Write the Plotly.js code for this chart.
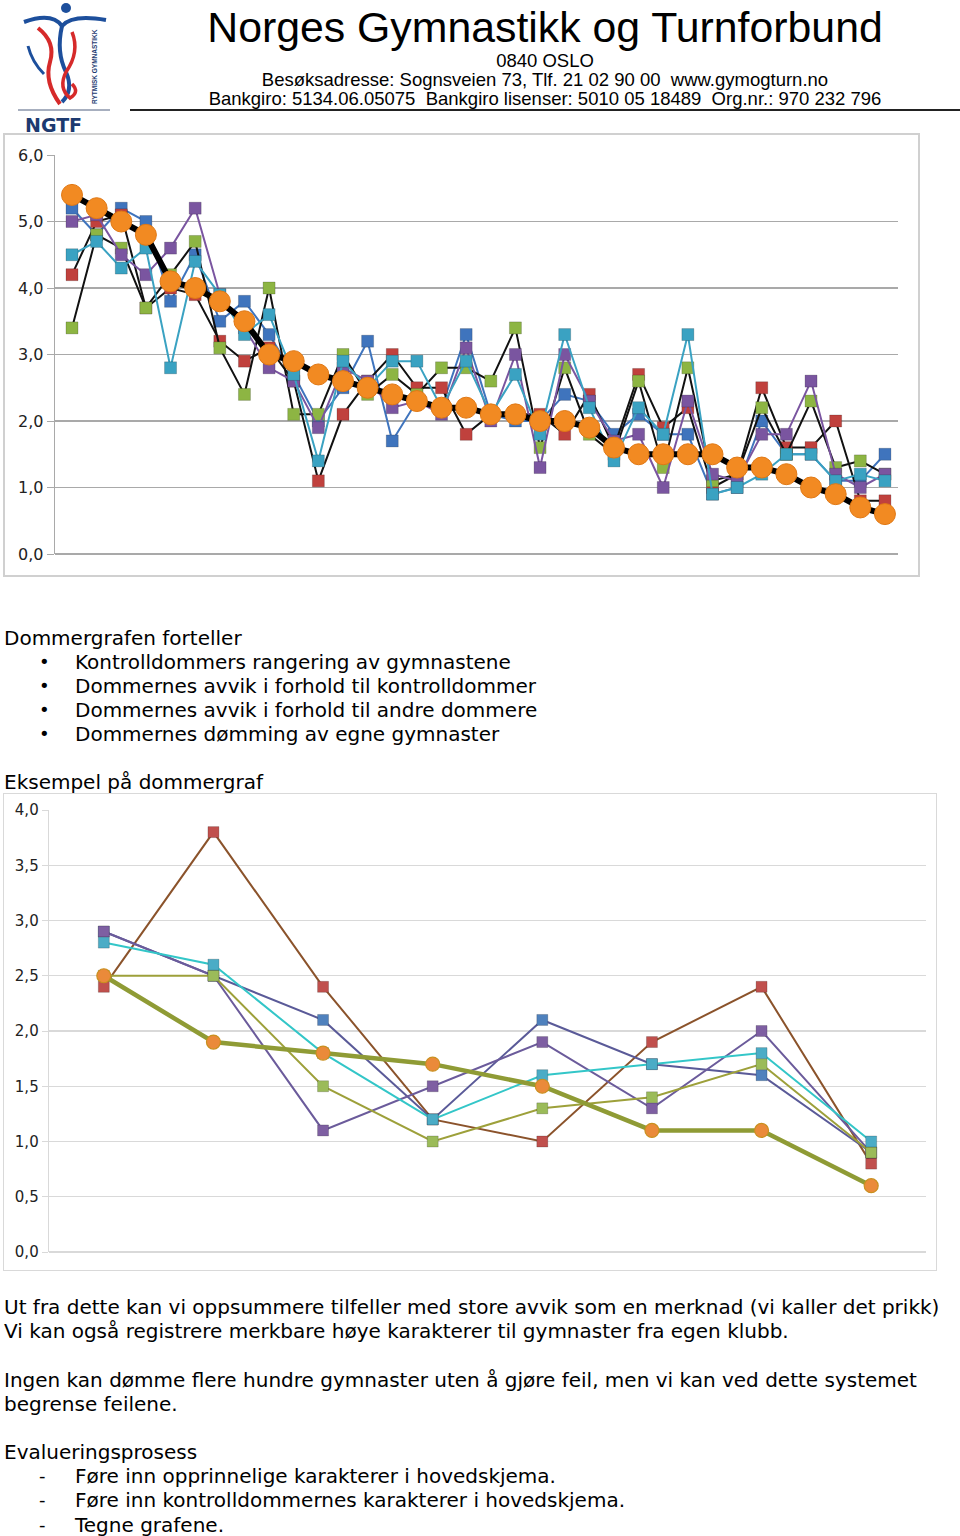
<!DOCTYPE html>
<html><head><meta charset="utf-8">
<script src="https://cdn.plot.ly/plotly-3.0.1.min.js"></script>
<style>
body{margin:0;width:960px;height:1536px;position:relative;background:#fff;font-family:"DejaVu Sans",Verdana,sans-serif;color:#000;overflow:hidden}
.t{position:absolute;left:4px;font-size:20px;white-space:pre;line-height:24px;height:24px}
.b{position:absolute;left:39px;font-size:18px;line-height:24px}
.h{position:absolute;font-family:"Liberation Sans",Arial,sans-serif;white-space:pre;text-align:center}
#topwrap{position:absolute;left:3px;top:133px;width:917px;height:444px;border:2px solid #d0d0d0;box-sizing:border-box}
#top{position:absolute;left:0;top:0;width:913px;height:440px}
#botwrap{position:absolute;left:3px;top:793px;width:934px;height:478px;border:1px solid #d9d9d9;box-sizing:border-box}
#bot{position:absolute;left:0;top:0;width:932px;height:476px}
</style></head><body>

<svg style="position:absolute;left:0;top:0" width="130" height="135">
  <path d="M24 22 Q52 12 62 26 Q72 14 106 20" stroke="#1d4f9c" stroke-width="4" fill="none"/>
  <circle cx="66" cy="8" r="5" fill="#1d4f9c"/>
  <path d="M62 26 Q56 52 66 72 Q74 90 62 102" stroke="#1d4f9c" stroke-width="4" fill="none"/>
  <path d="M38 28 Q56 42 50 62 Q44 82 60 104" stroke="#d62a2a" stroke-width="4" fill="none"/>
  <path d="M72 32 Q80 52 66 72 Q58 88 70 98 Q80 92 72 84" stroke="#d62a2a" stroke-width="3.5" fill="none"/>
  <path d="M28 46 Q32 62 44 74" stroke="#1d4f9c" stroke-width="3" fill="none"/>
  <text x="97" y="104" transform="rotate(-90 97 104)" font-family="Liberation Sans, Arial" font-size="6.5" font-weight="bold" fill="#1d3a70">RYTMISK GYMNASTIKK</text>
  <line x1="18" y1="110" x2="110" y2="110" stroke="#8a94aa" stroke-width="1.5"/>
  <text x="25" y="132" font-family="DejaVu Sans, Verdana" font-size="19" font-weight="bold" fill="#1d3a70">NGTF</text>
</svg>

<div class="h" style="left:180px;width:730px;top:4px;font-size:42.8px;line-height:46px">Norges Gymnastikk og Turnforbund</div>
<div class="h" style="left:180px;width:730px;top:51px;font-size:18.5px;line-height:19px">0840 OSLO</div>
<div class="h" style="left:180px;width:730px;top:70px;font-size:18.5px;line-height:19px">Besøksadresse: Sognsveien 73, Tlf. 21 02 90 00  www.gymogturn.no</div>
<div class="h" style="left:180px;width:730px;top:89px;font-size:18.5px;line-height:19px">Bankgiro: 5134.06.05075  Bankgiro lisenser: 5010 05 18489  Org.nr.: 970 232 796</div>
<div style="position:absolute;left:130px;top:109px;width:830px;height:2px;background:#222"></div>

<div id="topwrap"><div id="top"></div></div>

<div class="t" style="top:626px">Dommergrafen forteller</div>
<div class="b" style="top:650px">•</div><div class="t" style="left:75px;top:650px">Kontrolldommers rangering av gymnastene</div>
<div class="b" style="top:674px">•</div><div class="t" style="left:75px;top:674px">Dommernes avvik i forhold til kontrolldommer</div>
<div class="b" style="top:698px">•</div><div class="t" style="left:75px;top:698px">Dommernes avvik i forhold til andre dommere</div>
<div class="b" style="top:722px">•</div><div class="t" style="left:75px;top:722px">Dommernes dømming av egne gymnaster</div>
<div class="t" style="top:770px">Eksempel på dommergraf</div>

<div id="botwrap"><div id="bot"></div></div>

<div class="t" style="top:1295px">Ut fra dette kan vi oppsummere tilfeller med store avvik som en merknad (vi kaller det prikk)</div>
<div class="t" style="top:1319px">Vi kan også registrere merkbare høye karakterer til gymnaster fra egen klubb.</div>
<div class="t" style="top:1368px">Ingen kan dømme flere hundre gymnaster uten å gjøre feil, men vi kan ved dette systemet</div>
<div class="t" style="top:1392px">begrense feilene.</div>
<div class="t" style="top:1440px">Evalueringsprosess</div>
<div class="b" style="top:1464px">-</div><div class="t" style="left:75px;top:1464px">Føre inn opprinnelige karakterer i hovedskjema.</div>
<div class="b" style="top:1488px">-</div><div class="t" style="left:75px;top:1488px">Føre inn kontrolldommernes karakterer i hovedskjema.</div>
<div class="b" style="top:1513px">-</div><div class="t" style="left:75px;top:1513px">Tegne grafene.</div>

<script>
// ---------- Top chart data (34 gymnasts) ----------
const gymnasts = [1,2,3,4,5,6,7,8,9,10,11,12,13,14,15,16,17,18,19,20,21,22,23,24,25,26,27,28,29,30,31,32,33,34];
const judgeBlue   = [5.2,4.8,5.2,5.0,3.8,4.5,3.5,3.8,3.3,2.7,2.0,2.5,3.2,1.7,2.3,2.2,3.3,2.1,2.0,2.0,2.4,2.3,1.8,2.1,1.8,1.8,0.9,1.0,2.0,1.5,1.5,1.1,1.1,1.5];
const judgeRed    = [4.2,5.0,5.1,3.7,4.0,3.9,3.2,2.9,3.1,2.6,1.1,2.1,2.6,3.0,2.5,2.5,1.8,2.1,2.1,2.1,1.8,2.4,1.6,2.7,1.9,2.2,1.0,1.2,2.5,1.6,1.6,2.0,0.8,0.8];
const judgeGreen  = [3.4,4.8,4.6,3.7,4.2,4.7,3.1,2.4,4.0,2.1,2.1,3.0,2.4,2.7,2.4,2.8,2.8,2.6,3.4,1.6,2.8,1.8,1.5,2.6,1.3,2.8,1.1,1.2,2.2,1.5,2.3,1.3,1.4,1.2];
const judgePurple = [5.0,5.1,4.5,4.2,4.6,5.2,3.9,3.4,2.8,2.6,1.9,2.8,2.6,2.2,2.3,2.1,3.1,2.0,3.0,1.3,3.0,2.3,1.7,1.8,1.0,2.3,1.2,1.1,1.8,1.8,2.6,1.2,1.0,1.2];
const judgeCyan   = [4.5,4.7,4.3,4.6,2.8,4.4,3.9,3.3,3.6,2.7,1.4,2.9,2.5,2.9,2.9,2.2,2.9,2.1,2.7,1.8,3.3,2.2,1.4,2.2,1.8,3.3,0.9,1.0,1.2,1.5,1.5,1.1,1.2,1.1];
const controlJudge= [5.4,5.2,5.0,4.8,4.1,4.0,3.8,3.5,3.0,2.9,2.7,2.6,2.5,2.4,2.3,2.2,2.2,2.1,2.1,2.0,2.0,1.9,1.6,1.5,1.5,1.5,1.5,1.3,1.3,1.2,1.0,0.9,0.7,0.6];

// ---------- Bottom chart data (8 gymnasts) ----------
const exGymnasts = ['1','2','3','4','5','6','7','8'];
const exRed    = [2.4,3.8,2.4,1.2,1.0,1.9,2.4,0.8];
const exPurple = [2.9,2.5,1.1,1.5,1.9,1.3,2.0,0.9];
const exBlue   = [2.9,2.5,2.1,1.2,2.1,1.7,1.6,0.9];
const exCyan   = [2.8,2.6,1.8,1.2,1.6,1.7,1.8,1.0];
const exGreen  = [2.5,2.5,1.5,1.0,1.3,1.4,1.7,0.9];
const exControl= [2.5,1.9,1.8,1.7,1.5,1.1,1.1,0.6];

function sq(x, y, mcol, lcol, lw, size){
  return {x:x, y:y, type:'scatter', mode:'lines+markers', hoverinfo:'skip',
    line:{color:lcol, width:lw},
    marker:{symbol:'square', size:size, color:mcol, line:{color:'rgba(0,0,0,0.18)', width:1}}};
}

const topTraces = [
  sq(gymnasts, judgeBlue,   '#3f74bd', '#3f74bd', 2, 12),
  sq(gymnasts, judgeRed,    '#c0413d', '#111111', 2, 12),
  sq(gymnasts, judgeGreen,  '#8db543', '#111111', 2, 12),
  sq(gymnasts, judgePurple, '#7a55a0', '#7a55a0', 2, 12),
  sq(gymnasts, judgeCyan,   '#3aa2c2', '#3aa2c2', 2, 12),
  {x:gymnasts, y:controlJudge, type:'scatter', mode:'lines+markers', hoverinfo:'skip',
   line:{color:'#000', width:6},
   marker:{symbol:'circle', size:21, color:'#f28a22', line:{color:'#e07814', width:1}}}
];

Plotly.newPlot('top', topTraces, {
  width:913, height:440, margin:{l:50, r:20, t:20, b:21},
  paper_bgcolor:'#fff', plot_bgcolor:'#fff', showlegend:false, separators:',.',
  xaxis:{range:[0.31,34.53], showgrid:false, zeroline:false, showticklabels:false, showline:false, ticks:''},
  yaxis:{range:[0,6], dtick:1, tick0:0, tickformat:'.1f', gridcolor:'#a9a9a9', gridwidth:1.3,
    showline:true, linecolor:'#a9a9a9', linewidth:1.3, ticks:'outside', ticklen:7, tickcolor:'#a9a9a9',
    zeroline:true, zerolinecolor:'#a9a9a9', zerolinewidth:1.3,
    tickfont:{family:'DejaVu Sans, Verdana, sans-serif', size:16, color:'#222'}, fixedrange:true}
}, {staticPlot:true});

const botTraces = [
  sq(exGymnasts, exRed,    '#c0504d', '#8b532b', 2, 11),
  sq(exGymnasts, exBlue,   '#4f81bd', '#5a5a98', 2, 11),
  sq(exGymnasts, exPurple, '#7e5fa2', '#6b5b9b', 2, 11),
  sq(exGymnasts, exGreen,  '#9bbb59', '#9da03a', 2, 11),
  sq(exGymnasts, exCyan,   '#4bacc6', '#33c6c8', 2, 11),
  {x:exGymnasts, y:exControl, type:'scatter', mode:'lines+markers', hoverinfo:'skip',
   line:{color:'#8f9b35', width:4.5},
   marker:{symbol:'circle', size:14, color:'#ea8a3a', line:{color:'#c9901f', width:1.2}}}
];

Plotly.newPlot('bot', botTraces, {
  width:932, height:476, margin:{l:45, r:10, t:16, b:18},
  paper_bgcolor:'#fff', plot_bgcolor:'#fff', showlegend:false, separators:',.',
  xaxis:{type:'category', range:[-0.5,7.5], showgrid:false, zeroline:false, showticklabels:false, showline:false, ticks:''},
  yaxis:{range:[0,4], dtick:0.5, tick0:0, tickformat:'.1f', gridcolor:'#d9d9d9', gridwidth:1.3,
    showline:true, linecolor:'#d9d9d9', linewidth:1.3, ticks:'outside', ticklen:6, tickcolor:'#d9d9d9',
    zeroline:true, zerolinecolor:'#d9d9d9', zerolinewidth:1.3,
    tickfont:{family:'DejaVu Sans, Verdana, sans-serif', size:15, color:'#222'}, fixedrange:true}
}, {staticPlot:true});
</script>
</body></html>
